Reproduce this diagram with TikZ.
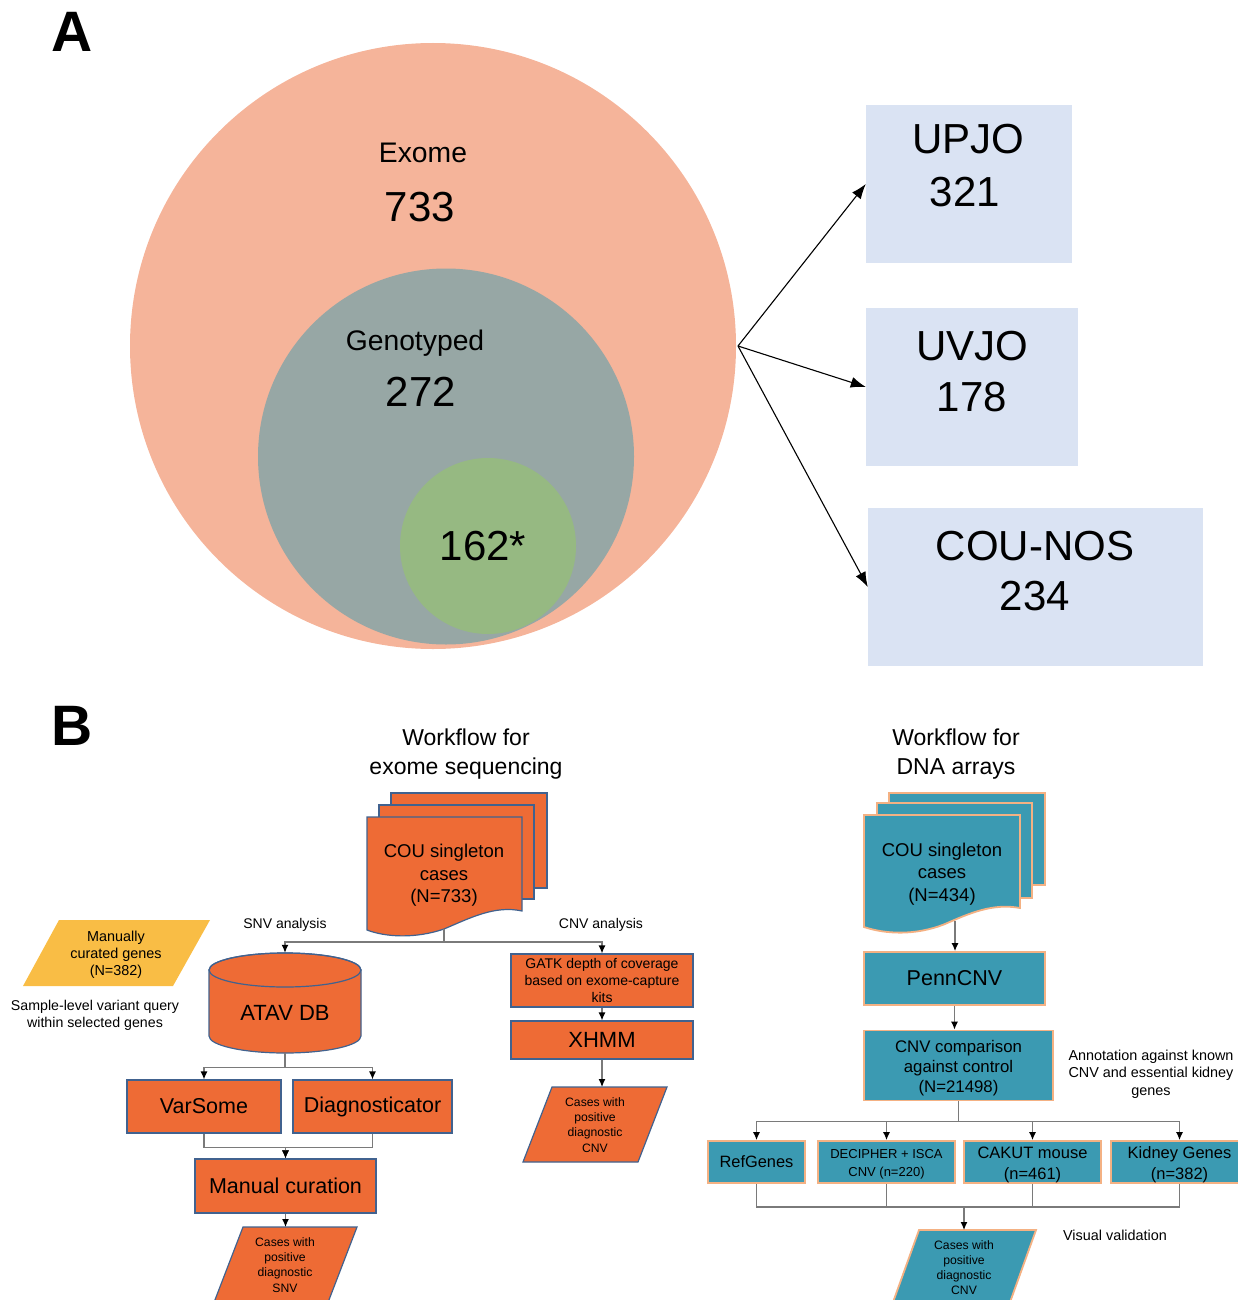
\documentclass[tikz,border=0pt]{standalone}
\usepackage{fontspec}
\setmainfont{Liberation Sans}
\usetikzlibrary{arrows.meta}
\definecolor{cSalmon}{HTML}{F5B49A}
\definecolor{cGrayC}{HTML}{97A7A5}
\definecolor{cGreenC}{HTML}{96B982}
\definecolor{cLBlue}{HTML}{DAE3F3}
\definecolor{cOrange}{HTML}{EE6B35}
\definecolor{cOBorder}{HTML}{41628F}
\definecolor{cYellow}{HTML}{F9BD45}
\definecolor{cTeal}{HTML}{3B9AB2}
\definecolor{cTBorder}{HTML}{F4B183}
\definecolor{cConn}{HTML}{7A7A7A}
\newcommand{\fsz}[2]{\fontsize{#1}{#2}\selectfont}
\begin{document}
\begin{tikzpicture}[x=1pt, y=-1pt,
  txt/.style={inner sep=0pt, align=center, text=black},
  btxt/.style={inner sep=0pt, anchor=base, text=black},
  obox/.style={draw=cOBorder, fill=cOrange, line width=1.2pt, inner sep=0pt, align=center},
  tbox/.style={draw=cTBorder, fill=cTeal, line width=1.8pt, inner sep=0pt, align=center},
  abox/.style={fill=cLBlue, inner sep=0pt},
  oshape/.style={draw=cOBorder, fill=cOrange, line width=1.2pt},
  tshape/.style={draw=cTBorder, fill=cTeal, line width=1.8pt},
  arrA/.style={line width=1.1pt, -{Latex[length=15pt,width=11pt]}},
  conn/.style={draw=cConn, line width=1.2pt},
  arrB/.style={conn, -{Latex[length=8pt,width=7pt,color=black]}}]
\useasboundingbox (0,0) rectangle (1238,1300);

% ---------------- Panel A ----------------
\node[btxt, font=\bfseries\fsz{57}{57}] (labA) at (72,51.4) {A};
\node[circle, fill=cSalmon, minimum size=606pt, inner sep=0pt] (exome) at (433,346) {};
\node[circle, fill=cGrayC, minimum size=376pt, inner sep=0pt] (geno) at (446,456.5) {};
\node[circle, fill=cGreenC, minimum size=176pt, inner sep=0pt] (sub) at (488,546) {};
\node[btxt, font=\fsz{28.3}{34}] (exomeT) at (423,162.6) {Exome};
\node[btxt, font=\fsz{42}{50}] (exomeN) at (420,221) {733};
\node[btxt, font=\fsz{28.3}{34}] (genoT) at (415,350.1) {Genotyped};
\node[btxt, font=\fsz{42}{50}] (genoN) at (421,406) {272};
\node[btxt, font=\fsz{42}{50}] (subN) at (483,560) {162*};

\node[abox, minimum width=206pt, minimum height=158pt] (upjo) at (969,184) {};
\node[abox, minimum width=212pt, minimum height=158pt] (uvjo) at (972,387) {};
\node[abox, minimum width=335pt, minimum height=158pt] (counos) at (1035.5,587) {};
\node[btxt, font=\fsz{42}{50}] (upjoT) at (968,154) {UPJO};
\node[btxt, font=\fsz{42}{50}] (upjoN) at (965,207) {321};
\node[btxt, font=\fsz{42}{50}] (uvjoT) at (972,360) {UVJO};
\node[btxt, font=\fsz{42}{50}] (uvjoN) at (972,411) {178};
\node[btxt, font=\fsz{42}{50}] (counosT) at (1035,560) {COU-NOS};
\node[btxt, font=\fsz{42}{50}] (counosN) at (1035,610) {234};

\coordinate (src) at (738,346);
\draw[arrA] (src) -- (upjo.west);
\draw[arrA] (src) -- (uvjo.west);
\draw[arrA] (src) -- (counos.west);

% ---------------- Panel B ----------------
\node[btxt, font=\bfseries\fsz{57}{57}] (labB) at (72,745.5) {B};
\node[btxt, font=\fsz{23}{29}] (wf1a) at (466,745) {Workflow for};
\node[btxt, font=\fsz{23}{29}] (wf1b) at (466,774) {exome sequencing};
\node[btxt, font=\fsz{23}{29}] (wf2a) at (956,745) {Workflow for};
\node[btxt, font=\fsz{23}{29}] (wf2b) at (956,774) {DNA arrays};

% left document stack
\draw[oshape] (391,793) rectangle (547,888);
\draw[oshape] (379,805) rectangle (534,899);
\path[oshape] (367,817) -- (522,817) -- (522,911) .. controls (495,905) and (470,918) .. (444,929) .. controls (415,939) and (385,937) .. (367,930) -- cycle;
\node[txt, font=\fsz{18.5}{22.5}] (cou1) at (444,875.5) {COU singleton\\cases\\(N=733)};
\coordinate (cou1b) at (444,929);

\node[btxt, font=\fsz{14}{17}] (snvlab) at (285,928) {SNV analysis};
\node[btxt, font=\fsz{14}{17}] (cnvlab) at (601,928) {CNV analysis};

% manually curated genes
\fill[cYellow] (59,920) -- (210,920) -- (173,986) -- (23,986) -- cycle;
\node[txt, font=\fsz{14.4}{17}] (curated) at (116,954.5) {Manually\\curated genes\\(N=382)};
\node[txt, font=\fsz{14.2}{17}] (query) at (95,1015) {Sample-level variant query\\within selected genes};

% ATAV cylinder
\path[oshape] (209,970) -- (209,1036) arc[start angle=180, end angle=0, x radius=76, y radius=17] -- (361,970) arc[start angle=0, end angle=-180, x radius=76, y radius=17] -- cycle;
\draw[draw=cOBorder, line width=1.2pt] (285,970) ellipse [x radius=76, y radius=17];
\node[inner sep=0pt, minimum width=152pt, minimum height=100pt] (atav) at (285,1003) {};
\node[btxt, font=\fsz{22}{26}] (atavT) at (285,1020.7) {ATAV DB};

\node[obox, minimum width=154pt, minimum height=53pt, font=\fsz{21.5}{26}] (varsome) at (204,1106.5) {VarSome};
\node[obox, minimum width=159pt, minimum height=53pt, font=\fsz{21.5}{26}] (diag) at (372.5,1106.5) {Diagnosticator};
\node[obox, minimum width=181pt, minimum height=54pt, font=\fsz{21.5}{26}] (manual) at (285.5,1186) {Manual curation};

\path[oshape] (243,1227) -- (357,1227) -- (327,1305) -- (213,1305) -- cycle;
\node[txt, font=\fsz{12.2}{15.2}] (snvout) at (285,1265) {Cases with\\positive\\diagnostic\\SNV};
\coordinate (snvtop) at (285,1227);

% CNV branch (exome)
\node[obox, minimum width=182pt, minimum height=53pt, font=\fsz{14}{17}] (gatk) at (602,980.5) {GATK depth of coverage\\based on exome-capture\\kits};
\node[obox, minimum width=182pt, minimum height=38pt, font=\fsz{22}{26}] (xhmm) at (602,1040) {XHMM};
\path[oshape] (552,1087) -- (667,1087) -- (638,1162) -- (523,1162) -- cycle;
\node[txt, font=\fsz{12.2}{15.2}] (cnvout) at (595,1125) {Cases with\\positive\\diagnostic\\CNV};
\coordinate (cnvtop) at (602,1087);

% connectors left workflow
\draw[arrB] (cou1b) -- ++(0,13) -| (atav.north);
\draw[arrB] (cou1b) -- ++(0,13) -| (gatk.north);
\draw[arrB] (atav.south) -- ++(0,14) -| (varsome.north);
\draw[arrB] (atav.south) -- ++(0,14) -| (diag.north);
\draw[arrB] (varsome.south) -- ++(0,14) -| (manual.north);
\draw[arrB] (diag.south) -- ++(0,14) -| (manual.north);
\draw[arrB] (manual.south) -- (manual.south |- snvtop);
\draw[arrB] (gatk.south) -- (xhmm.north);
\draw[arrB] (xhmm.south) -- (cnvtop);

% right document stack
\draw[tshape] (889,793) rectangle (1045,885);
\draw[tshape] (877,803) rectangle (1032,898);
\path[tshape] (864,815) -- (1020,815) -- (1020,908) .. controls (993,903) and (970,913) .. (945,924) .. controls (915,936) and (885,934) .. (864,927) -- cycle;
\node[txt, font=\fsz{18.5}{22.5}] (cou2) at (942,874) {COU singleton\\cases\\(N=434)};
\coordinate (cou2b) at (955,921);

\node[tbox, minimum width=181pt, minimum height=53pt, font=\fsz{21.5}{26}] (penn) at (954.5,978.5) {PennCNV};
\node[tbox, minimum width=189pt, minimum height=70pt] (cmp) at (958.5,1065.5) {};
\node[txt, font=\fsz{16.8}{20}] (cmpT) at (958.5,1068.5) {CNV comparison\\against control\\(N=21498)};
\node[txt, font=\fsz{14.4}{17.5}] (annot) at (1151,1074) {Annotation against known\\CNV and essential kidney\\genes};

\node[tbox, minimum width=97pt, minimum height=42pt, font=\fsz{16.4}{20}] (refg) at (756.5,1162) {RefGenes};
\node[tbox, minimum width=137pt, minimum height=42pt] (decip) at (886.5,1162) {};
\node[tbox, minimum width=137pt, minimum height=42pt] (cakut) at (1032.5,1162) {};
\node[tbox, minimum width=137pt, minimum height=42pt] (kidney) at (1179.5,1162) {};
\node[txt, font=\fsz{13}{17.5}] (decipT) at (886.5,1164.5) {DECIPHER + ISCA\\CNV (n=220)};
\node[txt, font=\fsz{16.5}{21}] (cakutT) at (1032.5,1164.5) {CAKUT mouse\\(n=461)};
\node[txt, font=\fsz{16.5}{21}] (kidneyT) at (1179.5,1164.5) {Kidney Genes\\(n=382)};

\path[tshape] (919,1230) -- (1036,1230) -- (1009,1305) -- (892,1305) -- cycle;
\node[txt, font=\fsz{12.2}{15}] (cnvout2) at (964,1268) {Cases with\\positive\\diagnostic\\CNV};
\node[btxt, font=\fsz{14.4}{17}] (visual) at (1115,1240) {Visual validation};
\coordinate (join) at (964,1207);
\coordinate (cnvtop2) at (964,1230);

% connectors right workflow
\draw[arrB] (cou2b) -- (cou2b |- penn.north);
\draw[arrB] (penn.south) -- (penn.south |- cmp.north);
\draw[arrB] (cmp.south) -- ++(0,20) -| (refg.north);
\draw[arrB] (cmp.south) -- ++(0,20) -| (decip.north);
\draw[arrB] (cmp.south) -- ++(0,20) -| (cakut.north);
\draw[arrB] (cmp.south) -- ++(0,20) -| (kidney.north);
\draw[conn] (refg.south) |- (join);
\draw[conn] (decip.south) |- (join);
\draw[conn] (cakut.south) |- (join);
\draw[conn] (kidney.south) |- (join);
\draw[arrB] (join) -- (cnvtop2);
\end{tikzpicture}
\end{document}
